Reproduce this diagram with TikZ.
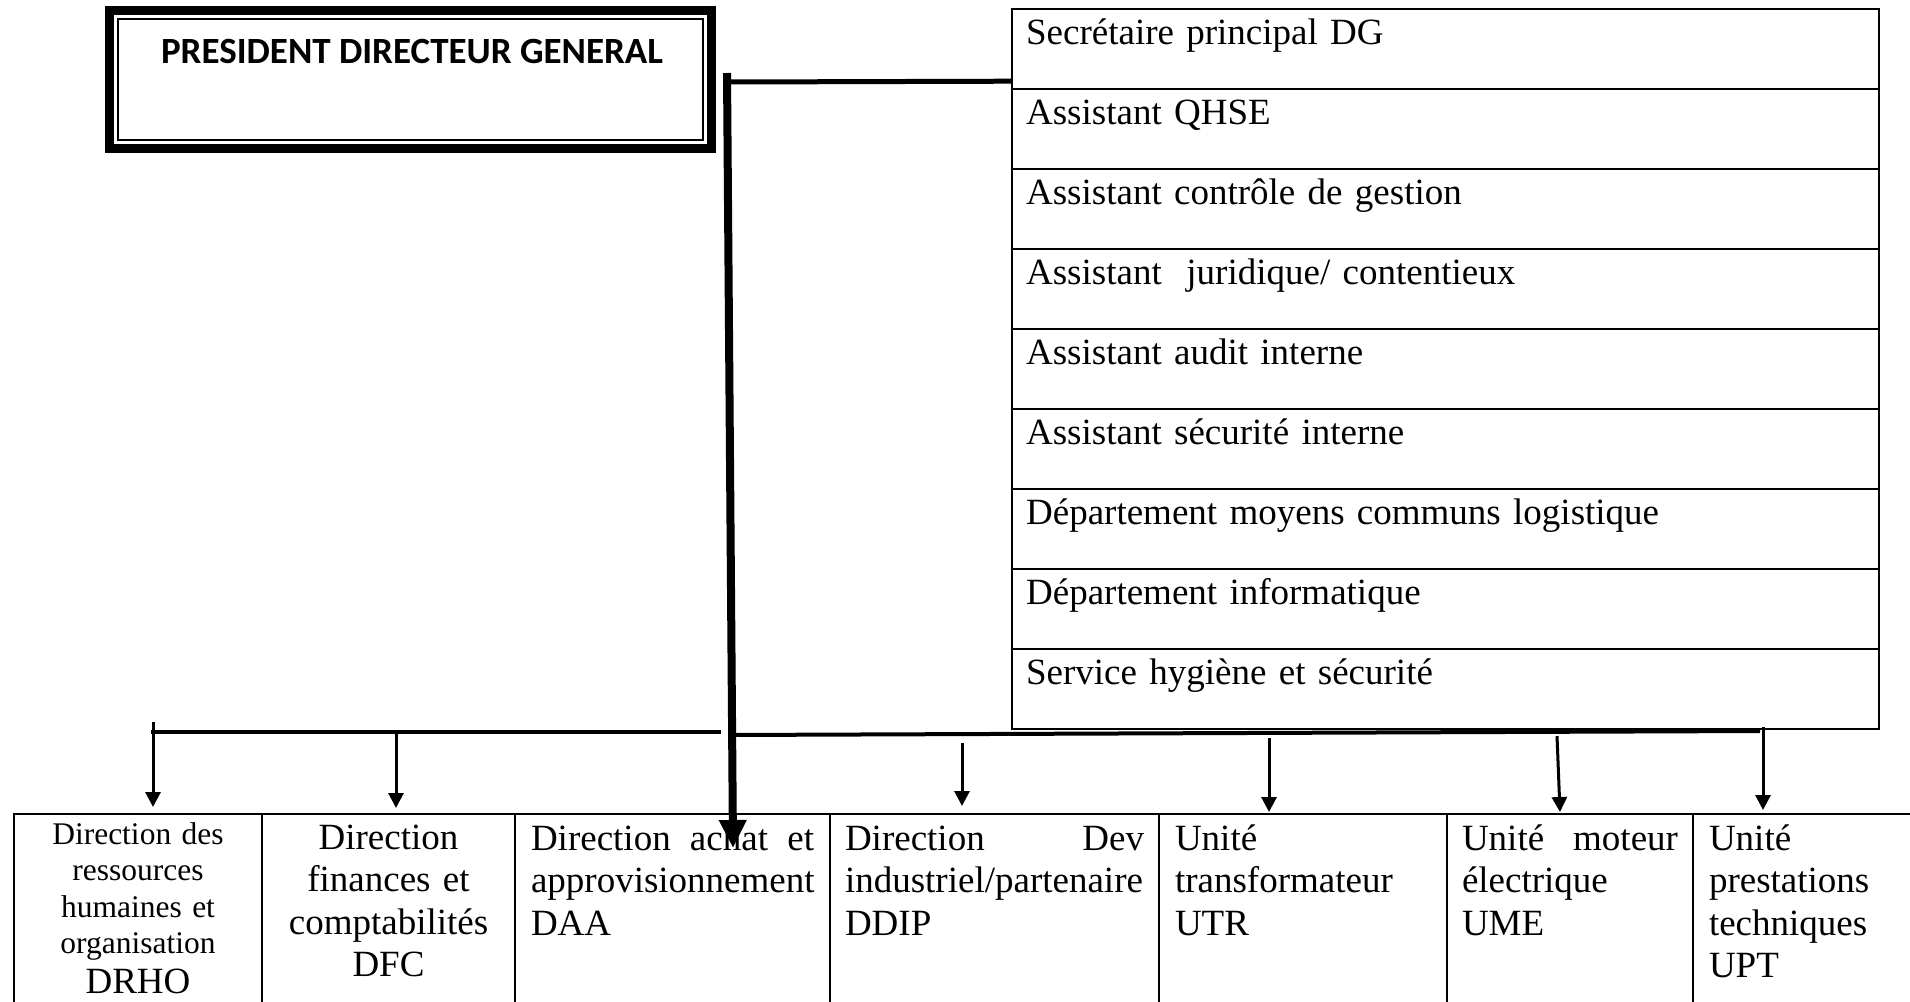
\documentclass[tikz,border=0pt]{standalone}
\usepackage{fontspec}
\setmainfont{Liberation Serif}
\newfontfamily\pdgfont{Carlito}
\usepackage{tikz}
\usetikzlibrary{arrows.meta,positioning}

\begin{document}
\begin{tikzpicture}[
  x=1pt, y=-1pt,
  pdgbox/.style={draw, line width=9pt, minimum width=602pt, minimum height=138pt, inner sep=0pt},
  pdgline/.style={draw, line width=2pt, minimum width=585pt, minimum height=121pt, inner sep=0pt},
  staff/.style={draw, line width=2.2pt, anchor=north west, text width=839pt, inner xsep=14pt, inner ysep=0pt, text height=35pt, text depth=45pt, align=left, font=\fontsize{37}{42.5}\selectfont},
  dirbox/.style={draw, line width=2pt, anchor=north west, inner xsep=16pt, inner ysep=0pt, text height=36pt, text depth=200pt, align=left, font=\fontsize{37}{42.5}\selectfont},
  bus/.style={line width=4pt},
  msg/.style={-{Triangle[width=15pt,length=15pt]}, line width=3pt},
  trunk/.style={-{Triangle[width=26pt,length=28pt]}, line width=8pt}
]
\useasboundingbox (0,0) rectangle (1910,1001);

% president box
\node[pdgbox] (pdg) at (410.5,79.5) {};
\node[pdgline] (pdgin) at (pdg.center) {};
\node[anchor=base, font=\pdgfont\bfseries\fontsize{37}{40}\selectfont] (pdgtext) at (412,63) {PRESIDENT DIRECTEUR GENERAL};

% staff column
\node[staff] (sec) at (1011,8) {Secrétaire principal DG};
\node[staff] (qhse) at (1011,88) {Assistant QHSE};
\node[staff] (cdg) at (1011,168) {Assistant contrôle de gestion};
\node[staff] (jur) at (1011,248) {Assistant\ \ juridique/ contentieux};
\node[staff] (aud) at (1011,328) {Assistant audit interne};
\node[staff] (secu) at (1011,408) {Assistant sécurité interne};
\node[staff] (dmcl) at (1011,488) {Département moyens communs logistique};
\node[staff] (dinf) at (1011,568) {Département informatique};
\node[staff] (shs) at (1011,648) {Service hygiène et sécurité};

% directions
\node[dirbox, text width=216pt, align=center, text height=30pt, font=\fontsize{31.5}{36.5}\selectfont] (drho) at (13,813) {Direction des\\ ressources\\ humaines et\\ organisation\\[3pt] {\fontsize{37}{42.5}\selectfont DRHO}};
\node[dirbox, text width=221pt, align=center, text height=35pt] (dfc) at (261,813) {Direction\\ finances et\\ comptabilités\\ DFC};
\node[dirbox, text width=283pt] (daa) at (514,813) {Direction\hfill achat\hfill et\\ approvisionnement\\ DAA};
\node[dirbox, text width=299pt, inner xsep=15pt] (ddip) at (829,813) {Direction\hfill Dev\\ industriel/partenaire\\ DDIP};
\node[dirbox, text width=256pt] (utr) at (1158,813) {Unité\\ transformateur\\ UTR};
\node[dirbox, text width=216pt, inner xsep=15pt] (ume) at (1446,813) {Unité\hfill moteur\\ électrique\\ UME};
\node[dirbox, text width=228pt] (upt) at (1692,813) {Unité\\ prestations\\ techniques\\ UPT};

% links
\coordinate (tee) at (729,82);
\draw[line width=5pt] (tee) -- ([yshift=9pt]sec.south west);

\coordinate (busl) at (151,732);
\coordinate (busm) at (721,732);
\draw[bus] (busl) -- (busm);
\coordinate (busr) at (729,735);
\coordinate (buse) at (1760,731);
\draw[bus] (busr) -- (buse);

\coordinate (b1) at (153,722);
\coordinate (b2) at (396,733);
\coordinate (b4) at (962,743);
\coordinate (b5) at (1269,738);
\coordinate (b6) at (1557,736);
\coordinate (b7) at (1763,727);
\draw[msg] (b1) -- ([yshift=6pt]b1 |- drho.north);
\draw[msg] (b2) -- ([yshift=5pt]b2 |- dfc.north);
\draw[msg] (b4) -- ([yshift=7pt]b4 |- ddip.north);
\draw[msg] (b5) -- ([yshift=1pt]b5 |- utr.north);
\draw[msg] (b6) -- ([xshift=3pt,yshift=1pt]b6 |- ume.north);
\draw[msg] (b7) -- ([yshift=3pt]b7 |- upt.north);

\coordinate (trunktop) at (727,73);
\draw[trunk] (trunktop) -- ([xshift=219pt,yshift=-35pt]daa.north west);
\end{tikzpicture}
\end{document}
